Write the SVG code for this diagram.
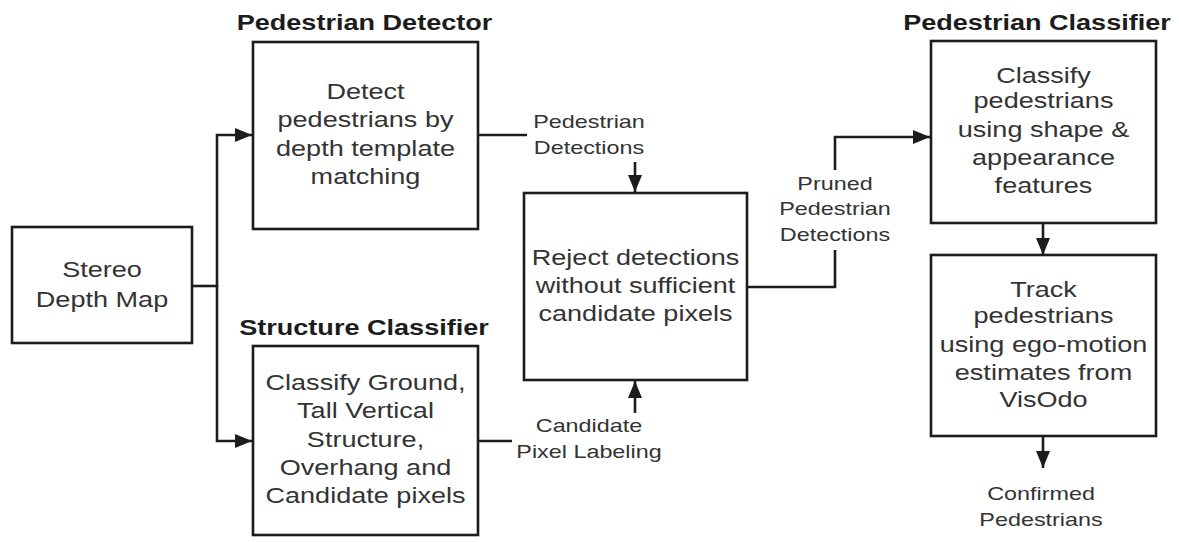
<svg xmlns="http://www.w3.org/2000/svg" width="1179" height="542" viewBox="0 0 1179 542">
  <style>
    .box { fill: #ffffff; stroke: #1c1c1c; stroke-width: 2.6; }
    .wire { fill: none; stroke: #1c1c1c; stroke-width: 2.6; }
    .body { font-family: "Liberation Sans", Arial, sans-serif; font-size: 22px; fill: #333333; text-anchor: middle; }
    .label { font-family: "Liberation Sans", Arial, sans-serif; font-size: 19px; fill: #333333; text-anchor: middle; }
    .title { font-family: "Liberation Sans", Arial, sans-serif; font-size: 22px; font-weight: bold; fill: #1c1c1c; text-anchor: middle; }
  </style>
  <defs>
    <marker id="arrow" markerUnits="userSpaceOnUse" markerWidth="17" markerHeight="14" refX="17" refY="7" orient="auto">
      <path d="M0,0 L17,7 L0,14 z" fill="#1c1c1c"/>
    </marker>
  </defs>
  <rect width="1179" height="542" fill="#ffffff"/>

  <!-- connectors -->
  <g id="connectors">
    <path class="wire" d="M192,286 H217"/>
    <path class="wire" d="M217,287 V135 H252" marker-end="url(#arrow)"/>
    <path class="wire" d="M217,285 V441 H252" marker-end="url(#arrow)"/>
    <path class="wire" d="M478,135 H527"/>
    <path class="wire" d="M635,162 V192" marker-end="url(#arrow)"/>
    <path class="wire" d="M478,441 H512"/>
    <path class="wire" d="M635,413 V381" marker-end="url(#arrow)"/>
    <path class="wire" d="M747,287 H835 V250"/>
    <path class="wire" d="M835,170 V137 H930" marker-end="url(#arrow)"/>
    <path class="wire" d="M1043,223 V255" marker-end="url(#arrow)"/>
    <path class="wire" d="M1043,436 V468" marker-end="url(#arrow)"/>
  </g>

  <!-- connector labels -->
  <g id="connector-labels">
    <g transform="translate(589,0) scale(1.23,1)">
      <text class="label" x="0" y="128">Pedestrian</text>
      <text class="label" x="0" y="154">Detections</text>
    </g>
    <g transform="translate(589,0) scale(1.23,1)">
      <text class="label" x="0" y="432">Candidate</text>
      <text class="label" x="0" y="458">Pixel Labeling</text>
    </g>
    <g transform="translate(835,0) scale(1.23,1)">
      <text class="label" x="0" y="190">Pruned</text>
      <text class="label" x="0" y="215">Pedestrian</text>
      <text class="label" x="0" y="241">Detections</text>
    </g>
    <g transform="translate(1041,0) scale(1.23,1)">
      <text class="label" x="0" y="500">Confirmed</text>
      <text class="label" x="0" y="526">Pedestrians</text>
    </g>
  </g>

  <!-- stage titles -->
  <g id="titles">
    <g transform="translate(364.5,0) scale(1.23,1)">
      <text class="title" x="0" y="30">Pedestrian Detector</text>
    </g>
    <g transform="translate(364,0) scale(1.23,1)">
      <text class="title" x="0" y="335">Structure Classifier</text>
    </g>
    <g transform="translate(1037,0) scale(1.23,1)">
      <text class="title" x="0" y="30">Pedestrian Classifier</text>
    </g>
  </g>

  <!-- nodes -->
  <g id="stereo-depth-map">
    <rect class="box" x="12" y="227" width="180" height="116"/>
    <g transform="translate(102,0) scale(1.23,1)">
      <text class="body" x="0" y="277">Stereo</text>
      <text class="body" x="0" y="307">Depth Map</text>
    </g>
  </g>

  <g id="pedestrian-detector">
    <rect class="box" x="253" y="42" width="225" height="187"/>
    <g transform="translate(365.5,0) scale(1.23,1)">
      <text class="body" x="0" y="99">Detect</text>
      <text class="body" x="0" y="127">pedestrians by</text>
      <text class="body" x="0" y="156">depth template</text>
      <text class="body" x="0" y="184">matching</text>
    </g>
  </g>

  <g id="structure-classifier">
    <rect class="box" x="253" y="346" width="225" height="189"/>
    <g transform="translate(365.5,0) scale(1.23,1)">
      <text class="body" x="0" y="390">Classify Ground,</text>
      <text class="body" x="0" y="418">Tall Vertical</text>
      <text class="body" x="0" y="447">Structure,</text>
      <text class="body" x="0" y="475">Overhang and</text>
      <text class="body" x="0" y="503">Candidate pixels</text>
    </g>
  </g>

  <g id="reject-detections">
    <rect class="box" x="524" y="193" width="223" height="187"/>
    <g transform="translate(635.5,0) scale(1.23,1)">
      <text class="body" x="0" y="265">Reject detections</text>
      <text class="body" x="0" y="293">without sufficient</text>
      <text class="body" x="0" y="321">candidate pixels</text>
    </g>
  </g>

  <g id="classify-pedestrians">
    <rect class="box" x="931" y="41" width="225" height="182"/>
    <g transform="translate(1043.5,0) scale(1.23,1)">
      <text class="body" x="0" y="83">Classify</text>
      <text class="body" x="0" y="108">pedestrians</text>
      <text class="body" x="0" y="137">using shape &amp;</text>
      <text class="body" x="0" y="165">appearance</text>
      <text class="body" x="0" y="193">features</text>
    </g>
  </g>

  <g id="track-pedestrians">
    <rect class="box" x="931" y="255" width="225" height="181"/>
    <g transform="translate(1043.5,0) scale(1.23,1)">
      <text class="body" x="0" y="297">Track</text>
      <text class="body" x="0" y="323">pedestrians</text>
      <text class="body" x="0" y="352">using ego-motion</text>
      <text class="body" x="0" y="380">estimates from</text>
      <text class="body" x="0" y="407">VisOdo</text>
    </g>
  </g>
</svg>
